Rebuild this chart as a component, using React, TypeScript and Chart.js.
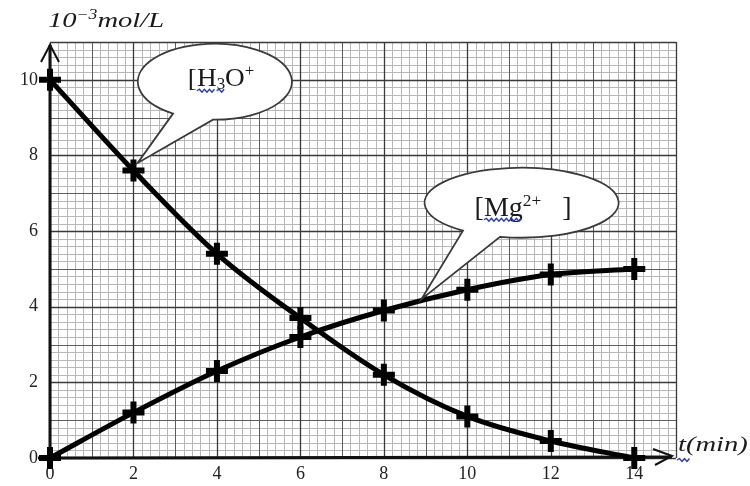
import React, { useEffect, useRef } from 'react';
import { Chart, registerables } from 'chart.js';

Chart.register(...registerables);

// ---- data ----
const times = [0, 2, 4, 6, 8, 10, 12, 14];
const h3oValues = [10, 7.6, 5.4, 3.7, 2.2, 1.1, 0.45, 0];
const mgValues = [0, 1.2, 2.3, 3.2, 3.9, 4.45, 4.85, 5.0];
const xRange = [0, 15];
const yRange = [0, 11];
const tickStep = 2;
const gridSubdivisions = 5;
const yAxisTitle = ['10', '−3', 'mol/L'];
const xAxisTitle = 't(min)';
const h3oLabelParts = [
  { t: '[', m: 'n' },
  { t: 'H', m: 'n', wavy: true },
  { t: '3', m: 'sub', wavy: true },
  { t: 'O', m: 'n' },
  { t: '+', m: 'sup' },
];
const mgLabelParts = [
  { t: '[', m: 'n' },
  { t: 'Mg', m: 'n', wavy: true },
  { t: '2+', m: 'sup' },
  { t: '   ]', m: 'n' },
];
// bubble anchor positions in data units: centre and tail tip
const h3oBubble = { cx: 3.95, cy: 9.95, tipX: 2.1, tipY: 7.8, rx: 77, ry: 38, baseL: 173, baseR: 213 };
const mgBubble = { cx: 11.3, cy: 6.75, tipX: 8.9, tipY: 4.2, rx: 97, ry: 35, baseL: 463, baseR: 500 };

const FONT = '"Liberation Serif", "Times New Roman", serif';

type Part = { t: string; m: string; wavy?: boolean };

function drawRich(ctx: CanvasRenderingContext2D, parts: Part[], x: number, y: number, size: number, italic: boolean, sx: number) {
  let cur = 0;
  const wavySpans: [number, number][] = [];
  ctx.save();
  ctx.translate(x, y);
  ctx.scale(sx, 1);
  ctx.textBaseline = 'alphabetic';
  ctx.textAlign = 'left';
  for (const p of parts) {
    const s = p.m === 'n' ? size : size * 0.62;
    const dy = p.m === 'sup' ? -size * 0.36 : p.m === 'sub' ? size * 0.12 : 0;
    ctx.font = `${italic ? 'italic ' : ''}${s}px ${FONT}`;
    ctx.fillText(p.t, cur, dy);
    const w = ctx.measureText(p.t).width;
    if (p.wavy) wavySpans.push([x + cur * sx, x + (cur + w) * sx]);
    cur += w;
  }
  ctx.restore();
  return { width: cur * sx, wavySpans };
}

function wavy(ctx: CanvasRenderingContext2D, x1: number, x2: number, y: number) {
  ctx.save();
  ctx.strokeStyle = '#2233cc';
  ctx.lineWidth = 1.3;
  ctx.beginPath();
  let up = true;
  ctx.moveTo(x1, y);
  for (let x = x1 + 2.5; x <= x2 + 0.1; x += 2.5) {
    ctx.lineTo(x, y + (up ? -1.5 : 1.5));
    up = !up;
  }
  ctx.stroke();
  ctx.restore();
}

function bubble(ctx: CanvasRenderingContext2D, chart: any, b: typeof h3oBubble) {
  const { x, y } = chart.scales;
  const cx = x.getPixelForValue(b.cx);
  const cy = y.getPixelForValue(b.cy);
  const tx = x.getPixelForValue(b.tipX);
  const ty = y.getPixelForValue(b.tipY);
  const aL = Math.acos(Math.max(-1, Math.min(1, (b.baseL - cx) / b.rx)));
  const aR = Math.acos(Math.max(-1, Math.min(1, (b.baseR - cx) / b.rx)));
  ctx.save();
  ctx.beginPath();
  ctx.ellipse(cx, cy, b.rx, b.ry, 0, aL, aR + Math.PI * 2, false);
  ctx.lineTo(tx, ty);
  ctx.closePath();
  ctx.fillStyle = '#ffffff';
  ctx.fill();
  ctx.strokeStyle = '#3a3a3a';
  ctx.lineWidth = 1.8;
  ctx.stroke();
  ctx.restore();
  return { cx, cy };
}

const paperPlugin = {
  id: 'paper',
  beforeDraw(chart: any) {
    const { ctx, chartArea: a, scales } = chart;
    const xs = scales.x;
    const ys = scales.y;
    ctx.save();
    ctx.fillStyle = '#ffffff';
    ctx.fillRect(0, 0, chart.width, chart.height);
    const nx = Math.round((xRange[1] - xRange[0]) * gridSubdivisions);
    const ny = Math.round((yRange[1] - yRange[0]) * gridSubdivisions);
    const levels = [
      { test: (i: number) => i % gridSubdivisions !== 0, color: '#b8b8b8', w: 1 },
      { test: (i: number) => i % gridSubdivisions === 0 && i % (gridSubdivisions * tickStep) !== 0, color: '#5c5c5c', w: 1 },
      { test: (i: number) => i % (gridSubdivisions * tickStep) === 0, color: '#3a3a3a', w: 1.3 },
    ];
    for (const lv of levels) {
      ctx.strokeStyle = lv.color;
      ctx.lineWidth = lv.w;
      ctx.beginPath();
      for (let i = 0; i <= nx; i++) {
        if (!lv.test(i) && !(i === nx && lv === levels[2])) continue;
        const px = Math.round(xs.getPixelForValue(xRange[0] + i / gridSubdivisions)) + 0.5;
        ctx.moveTo(px, a.top);
        ctx.lineTo(px, a.bottom);
      }
      for (let j = 0; j <= ny; j++) {
        if (!lv.test(j) && !(j === ny && lv === levels[2])) continue;
        const py = Math.round(ys.getPixelForValue(yRange[0] + j / gridSubdivisions)) + 0.5;
        ctx.moveTo(a.left, py);
        ctx.lineTo(a.right, py);
      }
      ctx.stroke();
    }
    ctx.restore();
  },
  beforeDatasetsDraw(chart: any) {
    const { ctx, chartArea: a, scales } = chart;
    const x0 = scales.x.getPixelForValue(0);
    const y0 = scales.y.getPixelForValue(0);
    ctx.save();
    ctx.strokeStyle = '#111';
    ctx.lineCap = 'butt';
    // y axis
    ctx.lineWidth = 3;
    ctx.beginPath();
    ctx.moveTo(x0, y0 + 6);
    ctx.lineTo(x0, a.top + 3);
    ctx.stroke();
    ctx.lineWidth = 2;
    ctx.beginPath();
    ctx.moveTo(x0 - 9, a.top + 20);
    ctx.lineTo(x0, a.top + 3);
    ctx.lineTo(x0 + 9, a.top + 20);
    ctx.stroke();
    // x axis
    ctx.lineWidth = 3;
    ctx.beginPath();
    ctx.moveTo(x0 - 12, y0);
    ctx.lineTo(a.right - 4, y0 - 1);
    ctx.stroke();
    ctx.lineWidth = 2;
    ctx.beginPath();
    ctx.moveTo(a.right - 23, y0 - 9);
    ctx.lineTo(a.right - 4, y0 - 2);
    ctx.lineTo(a.right - 21, y0 + 7);
    ctx.stroke();
    ctx.restore();
  },
  afterDatasetsDraw(chart: any) {
    const { ctx, chartArea: a, scales } = chart;
    ctx.save();
    ctx.fillStyle = '#1a1a1a';
    // y axis title
    const yt = [
      { t: yAxisTitle[0], m: 'n' },
      { t: yAxisTitle[1], m: 'sup' },
      { t: yAxisTitle[2], m: 'n' },
    ];
    drawRich(ctx, yt, a.left - 2, 27, 22, true, 1.3);
    // x axis title
    const y0 = scales.y.getPixelForValue(0);
    const xr = drawRich(ctx, [{ t: xAxisTitle.slice(0, 1), m: 'n', wavy: true }, { t: xAxisTitle.slice(1), m: 'n' }], a.right + 2, y0 - 7, 22, true, 1.3);
    xr.wavySpans.forEach(([s, e]) => wavy(ctx, s - 1, e + 4, y0 + 2));

    // bubbles
    const hb = bubble(ctx, chart, h3oBubble);
    ctx.fillStyle = '#1a1a1a';
    const hr = drawRich(ctx, h3oLabelParts, hb.cx - 27, hb.cy + 4, 26, false, 1.05);
    hr.wavySpans.forEach(([s, e]) => wavy(ctx, s, e, hb.cy + 9));
    const mb = bubble(ctx, chart, mgBubble);
    ctx.fillStyle = '#1a1a1a';
    const mr = drawRich(ctx, mgLabelParts, mb.cx - 47, mb.cy + 13, 28, false, 1.0);
    mr.wavySpans.forEach(([s, e]) => wavy(ctx, s, e, mb.cy + 17));
    ctx.restore();
  },
};

export default function App() {
  const ref = useRef<HTMLCanvasElement | null>(null);
  useEffect(() => {
    document.body.style.margin = '0';
    const canvas = ref.current;
    if (!canvas) return;
    const lineStyle = {
      borderColor: '#000',
      backgroundColor: '#000',
      borderWidth: 5,
      pointStyle: 'cross' as const,
      pointRadius: 11,
      pointBorderWidth: 6,
      pointBorderColor: '#000',
      cubicInterpolationMode: 'monotone' as const,
      fill: false,
      clip: false as any,
    };
    const chart = new Chart(canvas, {
      type: 'line',
      data: {
        datasets: [
          { label: 'H3O+', data: times.map((t, i) => ({ x: t, y: h3oValues[i] })), ...lineStyle },
          { label: 'Mg2+', data: times.map((t, i) => ({ x: t, y: mgValues[i] })), ...lineStyle },
        ],
      },
      options: {
        responsive: false,
        animation: false,
        devicePixelRatio: 1,
        layout: { padding: { top: 42, right: 74, left: 0, bottom: 0 } },
        plugins: { legend: { display: false }, tooltip: { enabled: false }, title: { display: false } },
        scales: {
          x: {
            type: 'linear',
            min: xRange[0],
            max: xRange[1],
            grid: { display: false, drawTicks: false },
            border: { display: false },
            ticks: {
              stepSize: tickStep,
              includeBounds: false,
              autoSkip: false,
              maxRotation: 0,
              padding: 5,
              color: '#222',
              font: { family: FONT, size: 18 },
            },
            afterFit: (s: any) => { s.height = 28; },
          },
          y: {
            type: 'linear',
            min: yRange[0],
            max: yRange[1],
            grid: { display: false, drawTicks: false },
            border: { display: false },
            ticks: {
              stepSize: tickStep,
              includeBounds: false,
              padding: 12,
              color: '#222',
              font: { family: FONT, size: 18 },
            },
            afterFit: (s: any) => { s.width = 50; },
          },
        },
      },
      plugins: [paperPlugin],
    });
    return () => chart.destroy();
  }, []);
  return (
    <div style={{ position: 'absolute', left: 0, top: 0, width: 750, height: 486 }}>
      <canvas ref={ref} width={750} height={486} style={{ width: 750, height: 486, display: 'block' }} />
    </div>
  );
}
